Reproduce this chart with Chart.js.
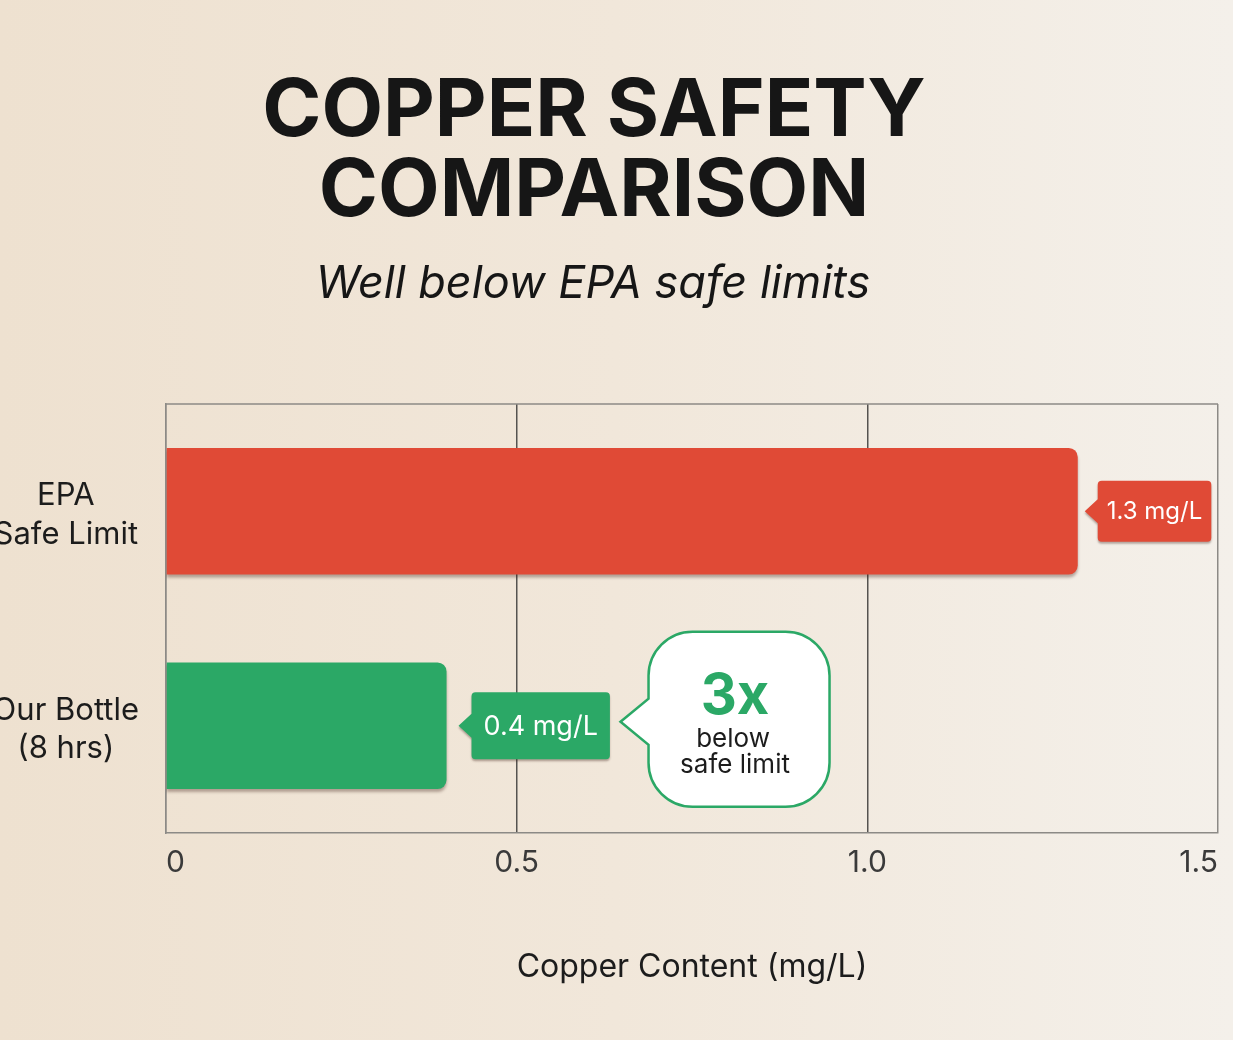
<!DOCTYPE html>
<html>
<head>
<meta charset="utf-8">
<script src="https://cdn.jsdelivr.net/npm/chart.js@4.4.1/dist/chart.umd.min.js"></script>
<style>
  html, body { margin: 0; padding: 0; overflow: hidden; }
  body {
    width: 1233px; height: 1040px;
    background: linear-gradient(to right, #eee1d0 0%, #f1e7da 50%, #f4f0ea 100%);
    font-family: Inter, "Noto Sans", sans-serif;
  }
  #wrap { position: relative; width: 1233px; height: 1040px; }
</style>
</head>
<body>
<div id="wrap"><canvas id="chart"></canvas></div>
<script>
const categories = [['EPA', 'Safe Limit'], ['Our Bottle', '(8 hrs)']];
const copperValues = [1.3, 0.4];
const valueTags = ['1.3 mg/L', '0.4 mg/L'];
const xTickLabels = ['0', '0.5', '1.0', '1.5'];

const red = '#e04a36';
const green = '#2ba866';
const ink = '#161616';

// title, subtitle, outer frame line, value tags and the "3x" bubble
const decorations = {
  id: 'decorations',
  beforeDatasetsDraw(chart) {
    const { ctx, chartArea } = chart;
    ctx.save();
    ctx.strokeStyle = '#8c8a86';
    ctx.lineWidth = 1.5;
    ctx.beginPath();
    ctx.moveTo(chartArea.left, chartArea.top);
    ctx.lineTo(chartArea.right, chartArea.top);
    ctx.stroke();
    ctx.restore();
  },
  beforeDatasetDraw(chart) {
    const ctx = chart.ctx;
    ctx.save();
    ctx.shadowColor = 'rgba(60, 30, 20, 0.35)';
    ctx.shadowOffsetY = 3;
    ctx.shadowBlur = 3;
  },
  afterDatasetDraw(chart) {
    chart.ctx.restore();
  },
  afterDraw(chart) {
    const { ctx } = chart;
    ctx.save();
    ctx.fillStyle = ink;
    ctx.textAlign = 'center';
    ctx.textBaseline = 'alphabetic';
    ctx.font = 'bold 80px Inter';
    ctx.fillText('COPPER SAFETY', 594, 136);
    ctx.fillText('COMPARISON', 594, 216);
    ctx.font = 'italic 45px Inter';
    ctx.fillText('Well below EPA safe limits', 593, 298);
    ctx.restore();

    const meta = chart.getDatasetMeta(0);
    const colors = [red, green];
    const sizes = [24, 27];
    const heights = [61, 67];
    const pads = [18, 24];
    meta.data.forEach((bar, i) => {
      const tip = bar.x + (i === 0 ? 7 : 12);
      drawTag(ctx, tip, bar.y, valueTags[i], colors[i], sizes[i], heights[i], pads[i]);
    });

    // speech bubble next to the green bar
    const g = meta.data[1];
    drawBubble(ctx, g.x + 174, g.y - 4, g.x + 202, g.x + 383, g.y - 94, g.y + 81);
  }
};

function drawTag(ctx, tipX, cy, text, color, size, h, pad) {
  ctx.save();
  ctx.font = size + 'px Inter';
  const w = ctx.measureText(text).width + pad;
  const x0 = tipX + 13;
  const r = 4;
  const top = cy - h / 2, bot = cy + h / 2;
  ctx.beginPath();
  ctx.moveTo(tipX, cy);
  ctx.lineTo(x0, cy - 12);
  ctx.lineTo(x0, top + r);
  ctx.quadraticCurveTo(x0, top, x0 + r, top);
  ctx.lineTo(x0 + w - r, top);
  ctx.quadraticCurveTo(x0 + w, top, x0 + w, top + r);
  ctx.lineTo(x0 + w, bot - r);
  ctx.quadraticCurveTo(x0 + w, bot, x0 + w - r, bot);
  ctx.lineTo(x0 + r, bot);
  ctx.quadraticCurveTo(x0, bot, x0, bot - r);
  ctx.lineTo(x0, cy + 12);
  ctx.closePath();
  ctx.shadowColor = 'rgba(60, 30, 20, 0.35)';
  ctx.shadowOffsetY = 2;
  ctx.shadowBlur = 2;
  ctx.fillStyle = color;
  ctx.fill();
  ctx.shadowColor = 'transparent';
  ctx.fillStyle = '#ffffff';
  ctx.textAlign = 'center';
  ctx.textBaseline = 'middle';
  ctx.fillText(text, x0 + w / 2, cy + 1);
  ctx.restore();
}

function drawBubble(ctx, tipX, tipY, left, right, top, bottom) {
  const r = 44;
  const cy = (top + bottom) / 2;
  ctx.save();
  ctx.beginPath();
  ctx.moveTo(tipX, tipY);
  ctx.lineTo(left, tipY - 23);
  ctx.lineTo(left, top + r);
  ctx.arcTo(left, top, left + r, top, r);
  ctx.arcTo(right, top, right, top + r, r);
  ctx.arcTo(right, bottom, right - r, bottom, r);
  ctx.arcTo(left, bottom, left, bottom - r, r);
  ctx.lineTo(left, tipY + 23);
  ctx.closePath();
  ctx.fillStyle = '#ffffff';
  ctx.fill();
  ctx.strokeStyle = green;
  ctx.lineWidth = 2.5;
  ctx.stroke();
  const cx = (left + right) / 2 - 4;
  ctx.textAlign = 'center';
  ctx.textBaseline = 'middle';
  ctx.fillStyle = green;
  ctx.font = 'bold 56px Inter';
  ctx.fillText('3x', cx, cy - 22);
  ctx.fillStyle = '#1c1c1c';
  ctx.font = '26px Inter';
  ctx.fillText('below', cx - 2, cy + 20);
  ctx.fillText('safe limit', cx, cy + 46);
  ctx.restore();
}

new Chart(document.getElementById('chart'), {
  type: 'bar',
  data: {
    labels: categories,
    datasets: [{
      data: copperValues,
      backgroundColor: [red, green],
      borderWidth: 0,
      borderRadius: { topRight: 9, bottomRight: 9, topLeft: 0, bottomLeft: 0 },
      borderSkipped: 'start',
      barPercentage: 0.59,
      categoryPercentage: 1
    }]
  },
  options: {
    indexAxis: 'y',
    responsive: true,
    maintainAspectRatio: false,
    animation: false,
    devicePixelRatio: 1,
    layout: { padding: { top: 404, left: 0, right: 15, bottom: 53 } },
    plugins: {
      legend: { display: false },
      tooltip: { enabled: false }
    },
    scales: {
      x: {
        min: 0,
        max: 1.5,
        ticks: {
          stepSize: 0.5,
          padding: 12,
          align: 'inner',
          color: '#3a3a3a',
          font: { family: 'Inter', size: 30 },
          callback: (v, i) => xTickLabels[i]
        },
        grid: {
          drawTicks: false,
          lineWidth: 1.5,
          color: ctx => (ctx.index === 0 || ctx.index === xTickLabels.length - 1) ? '#8c8a86' : '#555350'
        },
        border: { display: true, color: '#8c8a86', width: 1.5 },
        title: {
          display: true,
          text: 'Copper Content (mg/L)',
          color: '#1c1c1c',
          font: { family: 'Inter', size: 32 },
          padding: { top: 0, bottom: 0 }
        },
        afterFit: scale => { scale.height = 154; }
      },
      y: {
        ticks: {
          crossAlign: 'center',
          padding: 19,
          labelOffset: 4,
          color: '#1c1c1c',
          font: { family: 'Inter', size: 31, lineHeight: 1.25 }
        },
        grid: { display: false },
        border: { display: true, color: '#8c8a86', width: 1.5 },
        afterFit: scale => { scale.width = 166; }
      }
    }
  },
  plugins: [decorations]
});
</script>
</body>
</html>
